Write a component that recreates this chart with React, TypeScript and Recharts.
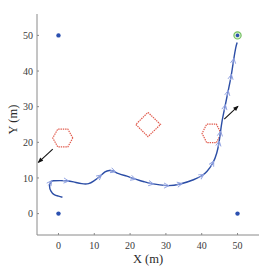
import React from 'react';
import { ComposedChart, Line, Scatter, XAxis, YAxis } from 'recharts';

// anchors / waypoints at the corners
const anchors = [
  { x: 0, y: 50 },
  { x: 0, y: 0 },
  { x: 50, y: 0 },
  { x: 50, y: 50 },
];
const goal = [{ x: 50, y: 50 }];

// travelled path
const pathX = [1.1, 0, -1.2, -2.1, -2.5, -2.2, -1.4, 0.5, 2.3, 4.2, 6.5, 8.4, 9.8, 11.6, 13, 14.2, 15.4, 16.8, 19.1, 21, 23.7, 26, 30.3, 34, 37.7, 40.1, 41.5, 43.1, 44.2, 44.8, 45.2, 45.7, 46.5, 47.3, 48.2, 48.9, 49.5, 49.9];
const pathY = [4.6, 4.9, 5.3, 6.3, 7.7, 8.8, 9.2, 9.25, 9.2, 8.9, 8.4, 8.4, 9.1, 10.5, 11.7, 12.1, 11.9, 11.2, 10.5, 9.8, 9, 8.4, 7.85, 8.3, 9.5, 10.7, 11.9, 14.2, 17, 19.8, 22.6, 26, 30, 34, 38.5, 43, 46.5, 48];
// where the heading markers sit along the path
const arrowIdx = [5, 8, 13, 16, 19, 21, 22, 23, 25, 27, 29, 30, 32, 33, 34, 35];

// obstacles
const hexA = [
  [4, 21.2], [2.6, 23.7], [-0.2, 23.7], [-1.6, 21.2], [-0.2, 18.7], [2.6, 18.7], [4, 21.2],
];
const hexB = [
  [45.4, 22.5], [44.1, 25.1], [41.4, 25.1], [40.1, 22.5], [41.4, 19.9], [44.1, 19.9], [45.4, 22.5],
];
const diamond = [
  [25, 28.4], [28.5, 25], [25, 21.6], [21.6, 25], [25, 28.4],
];

// obstacle velocity arrows (tail -> head)
const velLeft = [[-1.6, 18.1], [-5.6, 14.4]];
const velRight = [[46.3, 26.5], [50.1, 30.1]];

const ticks = [0, 10, 20, 30, 40, 50];

const toPts = (arr: number[][]) => arr.map(([x, y]) => ({ x, y }));

const pathData = pathX.map((x, i) => ({ x, y: pathY[i] }));
const arrowData = arrowIdx.map((i) => {
  const a = pathData[Math.max(i - 1, 0)];
  const b = pathData[Math.min(i + 1, pathData.length - 1)];
  return { x: pathData[i].x, y: pathData[i].y, dx: b.x - a.x, dy: b.y - a.y };
});

const BLUE = '#2c4ea6';
const RED = '#e0584a';

const Chevron = (p: any) => {
  const { cx, cy, payload } = p;
  if (cx == null) return <g />;
  const ang = (Math.atan2(-payload.dy, payload.dx) * 180) / Math.PI;
  return (
    <g transform={`translate(${cx},${cy}) rotate(${ang})`}>
      <path d="M2,0 L-3,-2.6 M2,0 L-3,2.6 M-4,0 L2,0" stroke="#8d9fe0" strokeWidth={0.9} fill="none" />
    </g>
  );
};

const Dot = (p: any) => (p.cx == null ? <g /> : <circle cx={p.cx} cy={p.cy} r={2.2} fill="#2b50b0" />);

const Ring = (p: any) =>
  p.cx == null ? <g /> : (
    <g>
      <circle cx={p.cx} cy={p.cy} r={3.6} fill="#d8efcf" stroke="#74c062" strokeWidth={1.2} />
      <circle cx={p.cx} cy={p.cy} r={1.8} fill="#2b50b0" />
    </g>
  );

const ArrowHead = (p: any) => {
  if (p.index !== 1 || !p.points) return <g key={`ah-${p.index}`} />;
  const [a, b] = p.points;
  const ang = (Math.atan2(b.y - a.y, b.x - a.x) * 180) / Math.PI;
  return (
    <g key="ah" transform={`translate(${b.x},${b.y}) rotate(${ang})`}>
      <path d="M1,0 L-4.5,-2.2 L-4.5,2.2 Z" fill="#111" />
    </g>
  );
};

const axisTick = { fontSize: 10, fill: '#3a3a3a', fontFamily: '"Liberation Serif", serif' };

export default function App() {
  return (
    <div style={{ position: 'absolute', left: 0, top: 0, background: '#fff' }}>
      <ComposedChart width={273} height={274} margin={{ top: 14, right: 14, left: 0, bottom: 0 }}>
        <XAxis
          type="number"
          dataKey="x"
          domain={[-6, 56]}
          ticks={ticks}
          allowDataOverflow
          height={39}
          stroke="#8a8a8a"
          tick={axisTick}
          tickSize={-2}
          tickMargin={9}
          label={(props: any) => {
            const vb = props.viewBox;
            return (
              <text
                x={vb.x + vb.width / 2}
                y={vb.y + 28}
                textAnchor="middle"
                fontSize={12.5}
                fill="#2a2a2a"
                fontFamily='"Liberation Serif", serif'
              >
                X (m)
              </text>
            );
          }}
        />
        <YAxis
          type="number"
          dataKey="y"
          domain={[-6, 56]}
          ticks={ticks}
          allowDataOverflow
          width={37}
          stroke="#8a8a8a"
          tick={axisTick}
          tickSize={-2}
          tickMargin={6}
          label={(props: any) => {
            const vb = props.viewBox;
            const cx = 13;
            const cy = vb.y + vb.height / 2 - 5;
            return (
              <text
                x={cx}
                y={cy}
                transform={`rotate(-90 ${cx} ${cy})`}
                textAnchor="middle"
                dominantBaseline="central"
                fontSize={12.5}
                fill="#2a2a2a"
                fontFamily='"Liberation Serif", serif'
              >
                Y (m)
              </text>
            );
          }}
        />
        <Line data={toPts(hexA)} dataKey="y" type="linear" stroke={RED} strokeWidth={1.2} strokeDasharray="1.4 0.9" dot={false} isAnimationActive={false} />
        <Line data={toPts(hexB)} dataKey="y" type="linear" stroke={RED} strokeWidth={1.2} strokeDasharray="1.4 0.9" dot={false} isAnimationActive={false} />
        <Line data={toPts(diamond)} dataKey="y" type="linear" stroke={RED} strokeWidth={1.2} strokeDasharray="1.4 0.9" dot={false} isAnimationActive={false} />
        <Line data={toPts(velLeft)} dataKey="y" type="linear" stroke="#111" strokeWidth={1.1} dot={ArrowHead} isAnimationActive={false} />
        <Line data={toPts(velRight)} dataKey="y" type="linear" stroke="#111" strokeWidth={1.1} dot={ArrowHead} isAnimationActive={false} />
        <Line data={pathData} dataKey="y" type="natural" stroke={BLUE} strokeWidth={1.4} dot={false} isAnimationActive={false} />
        <Scatter data={arrowData} dataKey="y" shape={Chevron} isAnimationActive={false} />
        <Scatter data={anchors} dataKey="y" shape={Dot} isAnimationActive={false} />
        <Scatter data={goal} dataKey="y" shape={Ring} isAnimationActive={false} />
      </ComposedChart>
    </div>
  );
}
